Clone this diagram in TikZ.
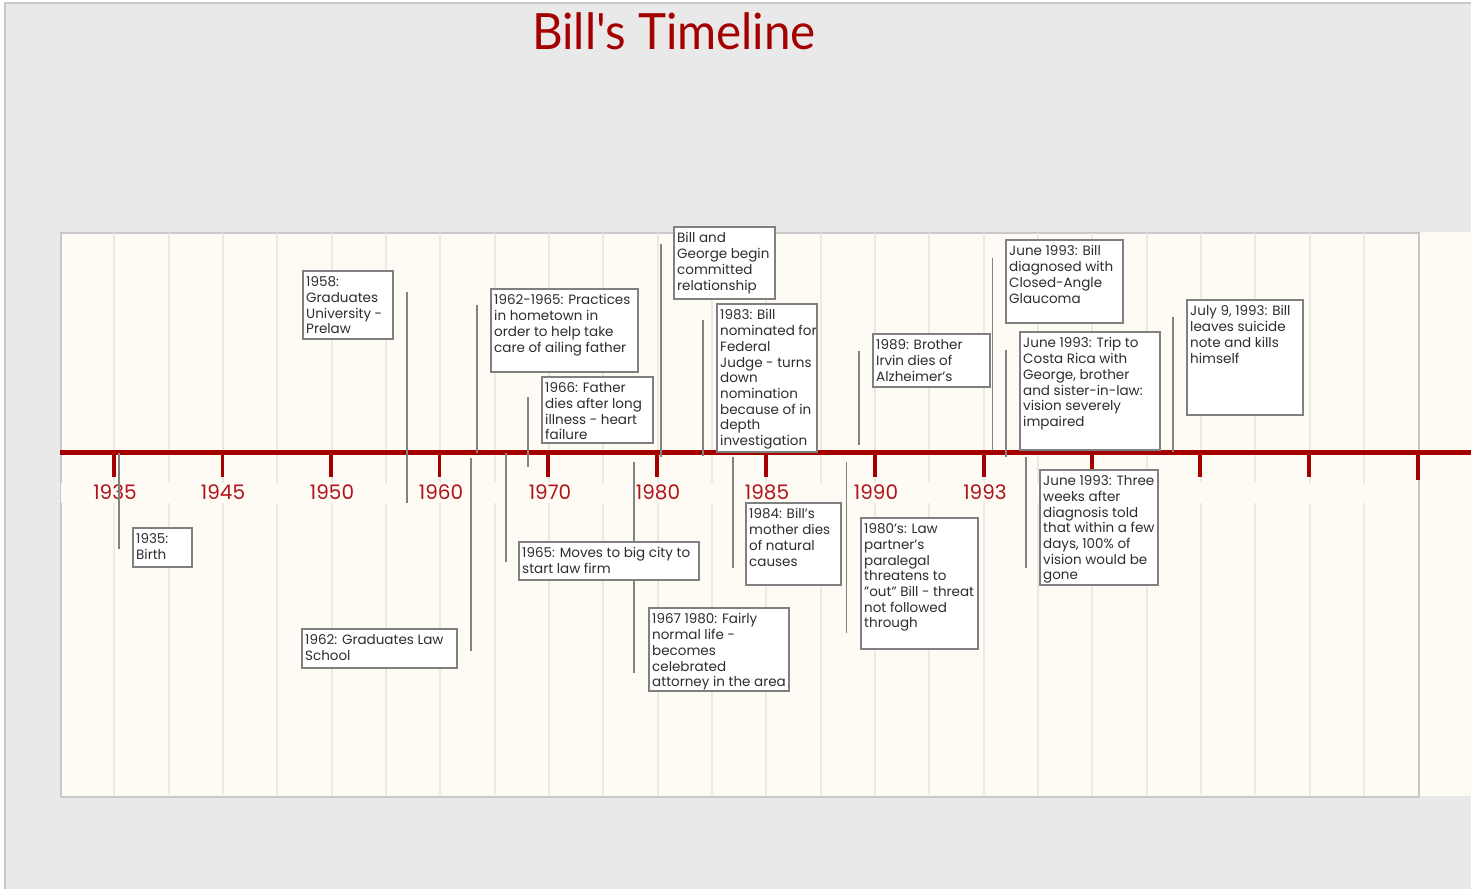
\documentclass[tikz,border=0pt]{standalone}
\usepackage{fontspec}
\setmainfont{Poppins}
\newfontfamily\titlefont{Lato}
\definecolor{pagegray}{RGB}{233,233,233}
\definecolor{framegray}{RGB}{200,200,200}
\definecolor{panelcream}{RGB}{254,250,244}
\definecolor{gridgray}{RGB}{236,232,227}
\definecolor{axisred}{RGB}{165,0,0}
\definecolor{yearred}{RGB}{175,20,25}
\definecolor{boxgray}{RGB}{128,128,128}
\definecolor{stemgray}{RGB}{130,130,130}
\definecolor{inkgray}{RGB}{45,45,45}

% one event: box corners (x1,y1)-(x2,y2) and its text
\newcommand\eventbox[6]{%
  \node[evbox, minimum width=#4pt-#2pt, minimum height=#5pt-#3pt] (#1) at (#2,#3) {};
  \node[evtext] (#1-t) at (#1.north west) {#6};
}
% one stem: a vertical line from (x,y1) to (x,y2)
\newcommand\stemline[4]{%
  \coordinate (#1-a) at (#2,#3);
  \coordinate (#1-b) at (#2,#4);
  \draw[stem] (#1-a) -- (#1-b);
}

\begin{document}
\begin{tikzpicture}[x=1pt,y=-1pt,
  evbox/.style={draw=boxgray, fill=white, line width=1.3pt, anchor=north west, inner sep=0pt, outer sep=0pt},
  evtext/.style={anchor=north west, inner xsep=3pt, inner ysep=5.5pt, align=left, text=inkgray,
    font=\fontsize{13.5}{15.7}\selectfont},
  stem/.style={draw=stemgray, line width=1.4pt},
  tick/.style={draw=axisred, line width=3.6pt},
  yearlbl/.style={text=yearred, font=\fontsize{20}{24}\selectfont, inner sep=0pt},
  gridline/.style={draw=gridgray, line width=1.8pt},
]
\useasboundingbox (0,0) rectangle (1471,889);

% page and frame
\fill[white] (0,0) rectangle (1471,889);
\fill[pagegray] (5,3) rectangle (1471,889);
\draw[framegray, line width=1.6pt] (5,889) -- (5,3) -- (1471,3);

% title
\node[text=axisred, font=\titlefont\fontsize{50}{56}\selectfont, xscale=0.95, transform shape, inner sep=0pt] (title) at (674,31) {Bill's Timeline};

% timeline panel
\fill[panelcream] (1418,232) rectangle (1471,796);
\node[draw=framegray, fill=panelcream, line width=1.6pt, anchor=north west, inner sep=0pt,
  minimum width=1358pt, minimum height=564pt] (panel) at (60,232) {};
\foreach \k in {1,...,24} {
  \draw[gridline] ({60+\k*54.33},233) -- ({60+\k*54.33},795);
}
\fill[panelcream] (61,483) rectangle (1417,503);

% axis and ticks
\coordinate (axis-a) at (60,452.5);
\coordinate (axis-b) at (1471,452.5);
\draw[draw=axisred, line width=4.6pt] (axis-a) -- (axis-b);
\foreach \x in {114,222.5,331,439.5,548,657,766,875,984,1092,1200,1309} {
  \draw[tick] (\x,452) -- (\x,477);
}
\draw[tick] (1418,452) -- (1418,480);

% year labels
\node[yearlbl] (y1935) at (115,492) {1935};
\node[yearlbl] (y1945) at (223,492) {1945};
\node[yearlbl] (y1950) at (332,492) {1950};
\node[yearlbl] (y1960) at (441,492) {1960};
\node[yearlbl] (y1970) at (550,492) {1970};
\node[yearlbl] (y1980) at (658,492) {1980};
\node[yearlbl] (y1985) at (767,492) {1985};
\node[yearlbl] (y1990) at (876,492) {1990};
\node[yearlbl] (y1993) at (985,492) {1993};

% stems
\stemline{s1958}{407}{292}{503}
\stemline{s1962p}{477}{305}{453}
\stemline{s1966}{528}{397}{467}
\stemline{sbg}{661}{244}{457}
\stemline{s1983}{703}{320}{456}
\stemline{s1989}{859}{351}{445}
\stemline{sjune1}{992.5}{258}{450}
\stemline{sjune2}{1006}{350}{457}
\stemline{sjuly}{1173}{317}{452}
\stemline{s1935}{119}{453}{549}
\stemline{s1962g}{471}{458}{651}
\stemline{s1965}{506}{453}{562}
\stemline{s1967}{634}{462}{673}
\stemline{s1984}{733}{457}{568}
\stemline{s1980s}{846.5}{462}{633}
\stemline{sjune3}{1026}{457}{568}

% events above the axis
\eventbox{e1958}{303}{271}{393}{339}{1958:\\Graduates\\University -\\Prelaw}
\eventbox{e1962p}{491}{289}{638}{372}{1962-1965: Practices\\in hometown in\\order to help take\\care of ailing father}
\eventbox{e1966}{542}{377}{653}{443}{1966: Father\\dies after long\\illness - heart\\failure}
\eventbox{ebg}{674}{227}{775}{299}{Bill and\\George begin\\committed\\relationship}
\eventbox{e1983}{717}{304}{817}{452}{1983: Bill\\nominated for\\Federal\\Judge - turns\\down\\nomination\\because of in\\depth\\investigation}
\eventbox{e1989}{873}{334}{990}{387}{1989: Brother\\Irvin dies of\\Alzheimer's}
\eventbox{ejune1}{1006}{240}{1123}{323}{June 1993: Bill\\diagnosed with\\Closed-Angle\\Glaucoma}
\eventbox{ejune2}{1020}{332}{1160}{450}{June 1993: Trip to\\Costa Rica with\\George, brother\\and sister-in-law:\\vision severely\\impaired}
\eventbox{ejuly}{1187}{300}{1303}{415}{July 9, 1993: Bill\\leaves suicide\\note and kills\\himself}

% events below the axis
\eventbox{e1935}{133}{528}{192}{567}{1935:\\Birth}
\eventbox{e1962g}{302}{629}{457}{668}{1962: Graduates Law\\School}
\eventbox{e1965}{519}{542}{699}{580}{1965: Moves to big city to\\start law firm}
\eventbox{e1967}{649}{608}{789}{691}{1967 1980: Fairly\\normal life -\\becomes\\celebrated\\attorney in the area}
\eventbox{e1984}{746}{503}{841}{585}{1984: Bill's\\mother dies\\of natural\\causes}
\eventbox{e1980s}{861}{518}{978}{649}{1980's: Law\\partner's\\paralegal\\threatens to\\"out" Bill - threat\\not followed\\through}
\eventbox{ejune3}{1040}{470}{1158}{585}{June 1993: Three\\weeks after\\diagnosis told\\that within a few\\days, 100\% of\\vision would be\\gone}
\end{tikzpicture}
\end{document}
